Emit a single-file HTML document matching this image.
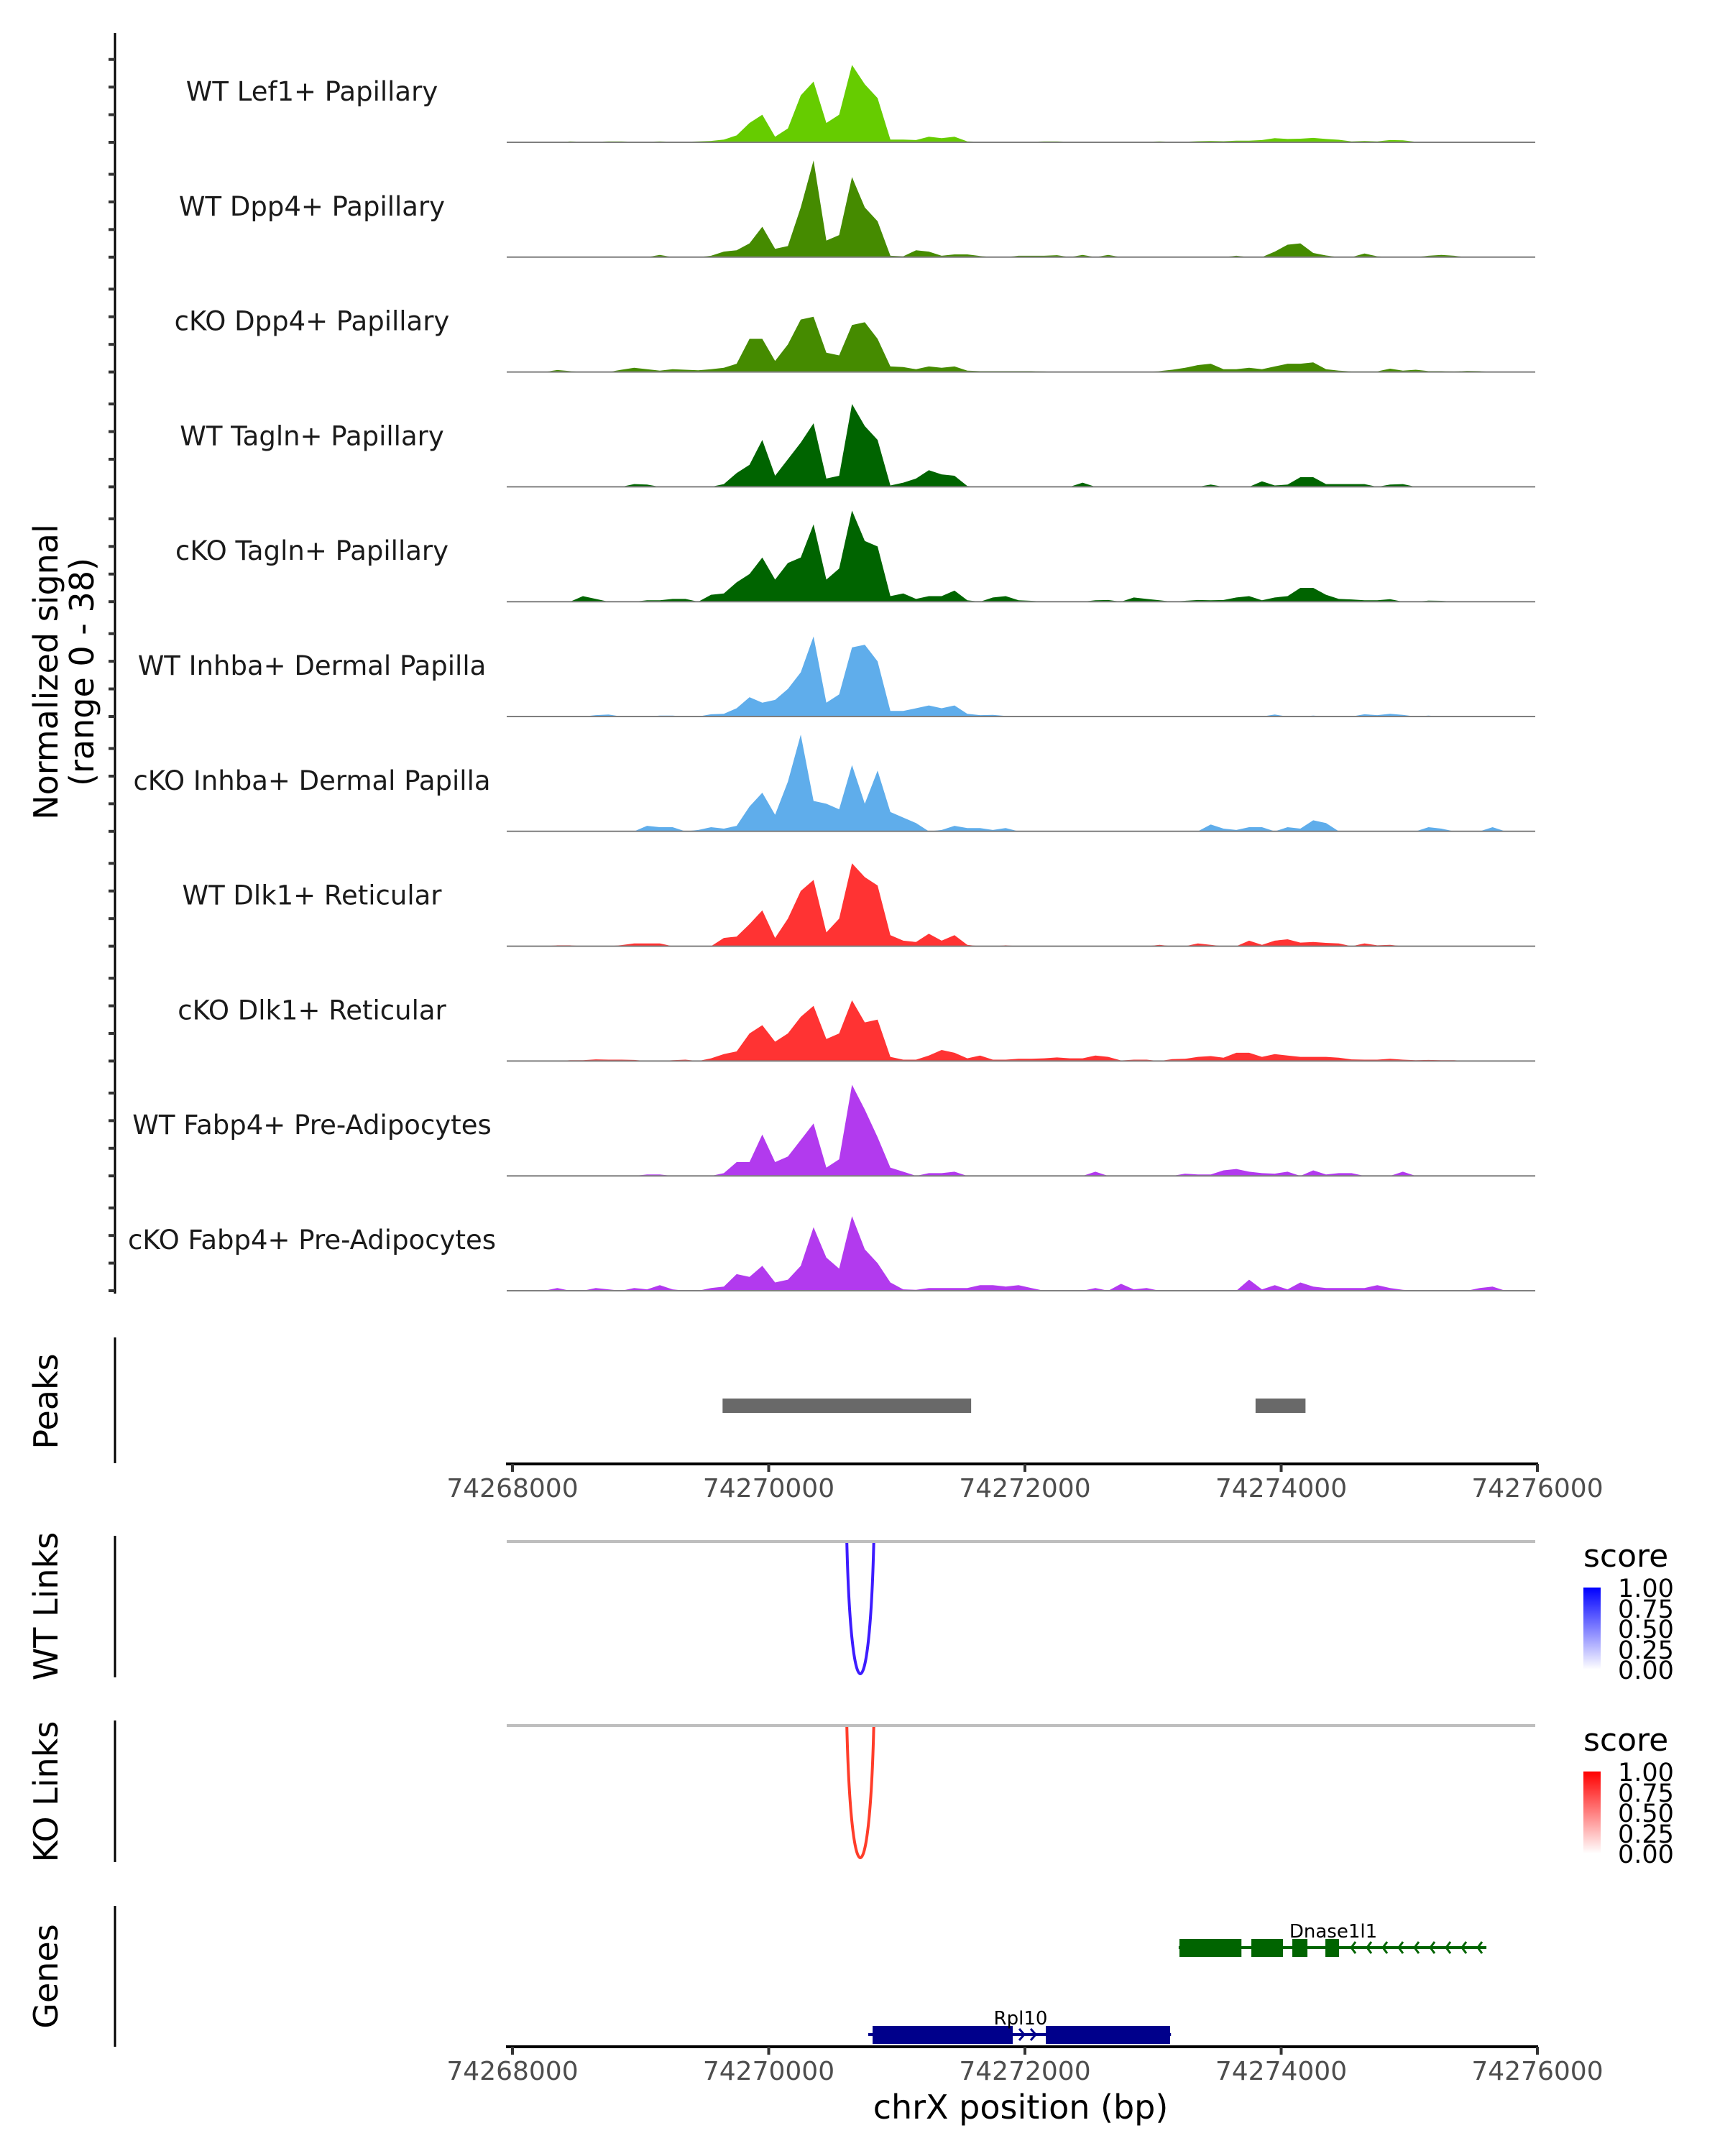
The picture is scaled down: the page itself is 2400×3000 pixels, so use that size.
<!DOCTYPE html>
<html><head><meta charset="utf-8">
<style>
html,body{margin:0;padding:0;background:#fff;}
svg{display:block;font-family:"DejaVu Sans","Liberation Sans",sans-serif;}
</style></head>
<body>
<svg id="chart" width="2400" height="3000" viewBox="0 0 2400 3000" xmlns="http://www.w3.org/2000/svg">
<rect width="2400" height="3000" fill="#fff"/>
<g id="tracks"></g>
<g id="labels"></g>
<line x1="160" y1="46" x2="160" y2="1800" stroke="#000" stroke-width="3"/>
<g id="yticks"></g>
<text transform="translate(80,935) rotate(-90)" text-anchor="middle" font-size="46" fill="#000">Normalized signal</text>
<text transform="translate(130,935) rotate(-90)" text-anchor="middle" font-size="46" fill="#000">(range 0 - 38)</text>

<line x1="160" y1="1861" x2="160" y2="2036" stroke="#000" stroke-width="3"/>
<text transform="translate(80,1950) rotate(-90)" text-anchor="middle" font-size="46">Peaks</text>
<g id="peaks"></g>
<g id="axis1"></g>

<line x1="160" y1="2137" x2="160" y2="2334" stroke="#000" stroke-width="3"/>
<text transform="translate(80,2235) rotate(-90)" text-anchor="middle" font-size="46">WT Links</text>
<line x1="705" y1="2145" x2="2136" y2="2145" stroke="#bebebe" stroke-width="4"/>
<g id="wtlinks"></g>

<line x1="160" y1="2394" x2="160" y2="2591" stroke="#000" stroke-width="3"/>
<text transform="translate(80,2493) rotate(-90)" text-anchor="middle" font-size="46">KO Links</text>
<line x1="705" y1="2401" x2="2136" y2="2401" stroke="#bebebe" stroke-width="4"/>
<g id="kolinks"></g>

<defs>
<linearGradient id="gblue" x1="0" y1="0" x2="0" y2="1"><stop offset="0" stop-color="#0000ff"/><stop offset="1" stop-color="#ffffff"/></linearGradient>
<linearGradient id="gred" x1="0" y1="0" x2="0" y2="1"><stop offset="0" stop-color="#ff0000"/><stop offset="1" stop-color="#ffffff"/></linearGradient>
</defs>
<g>
<text x="2203" y="2180" font-size="44">score</text>
<rect x="2203" y="2209" width="24" height="114" fill="url(#gblue)"/>
<g font-size="35">
<text x="2251" y="2222">1.00</text><text x="2251" y="2251">0.75</text><text x="2251" y="2279">0.50</text><text x="2251" y="2308">0.25</text><text x="2251" y="2336">0.00</text></g>
</g>
<g>
<text x="2203" y="2436" font-size="44">score</text>
<rect x="2203" y="2465" width="24" height="114" fill="url(#gred)"/>
<g font-size="35">
<text x="2251" y="2478">1.00</text><text x="2251" y="2507">0.75</text><text x="2251" y="2535">0.50</text><text x="2251" y="2564">0.25</text><text x="2251" y="2592">0.00</text></g>
</g>

<line x1="160" y1="2652" x2="160" y2="2848" stroke="#000" stroke-width="3"/>
<text transform="translate(80,2750) rotate(-90)" text-anchor="middle" font-size="46">Genes</text>
<g id="genes"></g>
<g id="axis2"></g>
<text x="1420" y="2948" text-anchor="middle" font-size="46">chrX position (bp)</text>
</svg>
<script>
const trackNames = ["WT Lef1+ Papillary","WT Dpp4+ Papillary","cKO Dpp4+ Papillary","WT Tagln+ Papillary","cKO Tagln+ Papillary","WT Inhba+ Dermal Papilla","cKO Inhba+ Dermal Papilla","WT Dlk1+ Reticular","cKO Dlk1+ Reticular","WT Fabp4+ Pre-Adipocytes","cKO Fabp4+ Pre-Adipocytes"];
const trackColors = ["#66cc00","#458b00","#458b00","#006400","#006400","#5fadeb","#5fadeb","#ff3333","#ff3333","#b23aee","#b23aee"];
const binStart = 74268000;
const binSize = 100;
const sigLef1WT = [0,0,0,0,0.3,0.2,0.2,0.3,0.3,0.2, 0.2,0.3,0.2,0.2,0.3,0.5,1,2.5,7,10, 2,5,17,22,7,10,28,21,16,1, 1,0.8,2,1.5,2,0.3,0.2,0.2,0.2,0.2, 0.2,0.3,0.3,0.2,0.2,0.2,0.2,0.2,0.2,0.2, 0.3,0.2,0.2,0.4,0.5,0.4,0.6,0.6,0.8,1.5, 1.2,1.3,1.6,1.2,0.9,0.3,0.5,0.3,0.8,0.7, 0.2,0.1,0,0,0,0,0,0,0,0];
const sigDpp4WT = [0,0,0,0,0,0,0,0,0,0, 0,0.8,0,0,0,0.5,2,2.5,5,11, 3,4,18,35,6,8,29,18,13,0.5, 0.3,2.5,2,0.5,1,1,0.4,0,0,0.5, 0.5,0.5,0.7,0,0.8,0,0.8,0,0,0, 0,0,0,0,0,0,0.5,0,0,2, 4.5,5,1.5,0.6,0,0,1.3,0.3,0,0, 0,0.5,0.8,0.5,0,0,0,0,0,0];
const sigDpp4KO = [0,0,0,0.7,0.3,0,0,0,0.8,1.5, 1,0.5,1,0.8,0.6,1,1.5,3,12,12, 4,10,19,20,7,6,17,18,12,2, 1.8,1,2,1.5,2,0.5,0.3,0.3,0.3,0.3, 0.3,0.2,0,0,0,0,0,0,0,0, 0.3,0.8,1.5,2.5,3,1,1,1.5,1,2, 3,3,3.5,1,0.5,0.2,0.2,0.2,1.2,0.5, 0.8,0.3,0.3,0.2,0.4,0.3,0,0,0,0];
const sigTaglnWT = [0,0,0,0,0,0,0,0,0,1, 0.8,0,0,0,0,0,1,5,8,17, 4,10,16,23,3,4,30,22,17,0.5, 1.5,3,6,4.5,4,0.3,0,0,0,0, 0,0,0,0,1.5,0,0,0,0,0, 0,0,0,0,0.8,0,0,0,2,0.5, 0.8,3.5,3.5,1,1,1,1,0,0.8,1, 0,0,0,0,0,0,0,0,0,0];
const sigTaglnKO = [0,0,0,0,0,2,1,0,0,0, 0.5,0.5,1,1,0,2.5,3,7,10,16, 8,14,16,28,8,12,33,22,20,2, 3,1,2,2,4,0.5,0,1.5,2,0.5, 0.3,0,0,0,0,0.5,0.6,0,1.5,1, 0.5,0,0.3,0.6,0.5,0.6,1.5,2,0.5,1.5, 2,5,5,2.5,1,0.8,0.5,0.5,0.9,0, 0,0.4,0.3,0,0,0,0,0,0,0];
const sigInhbaWT = [0,0,0,0,0,0,0.5,0.7,0,0, 0,0.3,0.3,0,0,0.8,1,3,7,5, 6,10,16,29,5,8,25,26,20,2, 2,3,4,3,4,1,0.5,0.6,0.2,0, 0,0,0,0,0,0,0,0,0,0, 0,0,0,0,0,0,0,0,0,0.7, 0,0,0.3,0,0,0,0.8,0.5,1,0.6, 0,0.3,0,0,0,0,0,0,0,0];
const sigInhbaKO = [0,0,0,0,0,0,0,0,0,0, 2,1.5,1.5,0,0.5,1.5,1,2,9,14, 6,18,35,11,10,8,24,10,22,7, 5,3,0,0.5,2,1.2,1.2,0.5,1.2,0, 0,0,0,0,0,0,0,0,0,0, 0,0,0,0,2.5,1,0.5,1.5,1.5,0, 1.5,1,4,3,0,0,0,0,0,0, 0,1.5,1,0,0,0,1.5,0,0,0];
const sigDlk1WT = [0,0,0,0.3,0.3,0,0,0,0.4,1, 1,1,0,0,0,0,3,3.5,8,13, 3,10,20,24,5,10,30,25,22,4, 2,1.5,4.5,2,4,0.5,0,0,0.3,0, 0,0,0,0,0,0,0,0,0,0, 0.5,0,0,1,0.5,0,0,2,0.5,2, 2.5,1.3,1.5,1.2,1,0,1,0.3,0.5,0, 0,0,0,0,0,0,0,0,0,0];
const sigDlk1KO = [0,0,0,0,0.3,0.3,0.6,0.5,0.5,0.4, 0,0,0.3,0.5,0,1,2.5,3.5,10,13, 7,10,16,20,8,10,22,14,15,1.5, 0.5,0.5,2,4,3,1,2,0.5,0.5,0.8, 0.8,1,1.3,1,1,2,1.5,0.2,0.5,0.5, 0,0.7,0.8,1.5,1.8,1.2,3,3,1.5,2.5, 2,1.5,1.5,1.5,1.2,0.6,0.5,0.5,0.8,0.5, 0.3,0.4,0.3,0.3,0,0,0,0,0,0];
const sigFabp4WT = [0,0,0,0,0,0,0,0,0,0, 0.5,0.5,0,0,0,0,1,5,5,15, 5,7,13,19,3,6,33,24,14,3, 1.5,0,1,1,1.5,0,0,0,0,0, 0,0,0,0,0,1.5,0,0,0,0, 0,0,0.8,0.5,0.5,2,2.5,1.5,1,0.8, 1.5,0,2,0.5,1,1,0,0,0,1.5, 0,0,0,0,0,0,0,0,0,0];
const sigFabp4KO = [0,0,0,1,0,0,1,0.5,0,1, 0.5,2,0.5,0,0,1,1.5,6,5,9, 3,4,9,23,12,8,27,15,10,3, 0.5,0.3,1,1,1,1,2,2,1.5,2, 1,0,0,0,0,1,0,2.5,0.5,1, 0,0,0,0,0,0,0,4,0.5,2, 0.5,3,1.5,1,1,1,1,2,1,0.3, 0,0,0,0,0,1,1.5,0,0,0];
const signals = [sigLef1WT,sigDpp4WT,sigDpp4KO,sigTaglnWT,sigTaglnKO,sigInhbaWT,sigInhbaKO,sigDlk1WT,sigDlk1KO,sigFabp4WT,sigFabp4KO];
const yMax = 38;
const yTickVals = [0,10,20,30];
const xTicks = [74268000,74270000,74272000,74274000,74276000];
const peakStarts = [74269640,74273800];
const peakEnds = [74271580,74274190];
const wtLinkStart = [74270610]; const wtLinkEnd = [74270820]; const wtLinkScore = [1.0];
const koLinkStart = [74270610]; const koLinkEnd = [74270820]; const koLinkScore = [1.0];

const NS = "http://www.w3.org/2000/svg";
const X0 = 713, PXBP = 1426/8000;
function xs(bp){ return X0 + (bp - 74268000)*PXBP; }
const BASE0 = 198, TSTEP = 159.8, THEIGHT = 146;
function ys(i, v){ return BASE0 + TSTEP*i - v*THEIGHT/yMax; }
function mk(tag, attrs, parent){ const e=document.createElementNS(NS,tag); for(const k in attrs) e.setAttribute(k,attrs[k]); parent.appendChild(e); return e; }

const gT = document.getElementById('tracks');
const gL = document.getElementById('labels');
const gY = document.getElementById('yticks');
signals.forEach((arr,i)=>{
  const base = ys(i,0);
  let d = "M" + xs(binStart).toFixed(1) + "," + base.toFixed(1);
  arr.forEach((v,b)=>{ d += " L" + xs(binStart + binSize*(b+0.5)).toFixed(1) + "," + ys(i,v).toFixed(1); });
  d += " L" + xs(binStart + binSize*arr.length).toFixed(1) + "," + base.toFixed(1) + " Z";
  const p = mk('path',{d:d, fill:trackColors[i]}, gT);
  
  
  const bl = mk('line',{x1:705,x2:2136,y1:base,y2:base,stroke:'#7f7f7f','stroke-width':2}, gT);
  
  
  const t = mk('text',{x:434,y:base-58,'text-anchor':'middle','font-size':37,fill:'#1a1a1a'}, gL);
  t.textContent = trackNames[i];
  
  
  yTickVals.forEach(tv=>{
    const tk = mk('line',{x1:151,x2:160,y1:ys(i,tv),y2:ys(i,tv),stroke:'#333','stroke-width':4}, gY);
    
    
  });
});

const gP = document.getElementById('peaks');
peakStarts.forEach((s,k)=>{
  const r = mk('rect',{x:xs(s),y:1946,width:xs(peakEnds[k])-xs(s),height:20,fill:'#696969'}, gP);
  
  
});

function drawAxis(id, y){
  const g = document.getElementById(id);
  const al = mk('line',{x1:704,x2:xs(74276000)+1,y1:y,y2:y,stroke:'#000','stroke-width':4}, g);
  
  
  xTicks.forEach(tv=>{
    const tk = mk('line',{x1:xs(tv),x2:xs(tv),y1:y,y2:y+11,stroke:'#333','stroke-width':4}, g);
    
    
    const tl = mk('text',{x:xs(tv),y:y+46,'text-anchor':'middle','font-size':36,fill:'#4d4d4d'}, g);
    tl.textContent = tv;
    
    
  });
}
drawAxis('axis1', 2037);
drawAxis('axis2', 2848);

function drawLinks(id, starts, ends, scores, baseY, color){
  const g = document.getElementById(id);
  starts.forEach((s,k)=>{
    const x1 = xs(s), x2 = xs(ends[k]);
    const depth = 182*scores[k];
    const cy = baseY + 2 + depth/0.75;
    const p = mk('path',{d:`M${x1},${baseY+2} C${x1+6},${cy} ${x2-6},${cy} ${x2},${baseY+2}`,fill:'none',stroke:color,'stroke-width':4}, g);
    
    
  });
}
drawLinks('wtlinks', wtLinkStart, wtLinkEnd, wtLinkScore, 2145, '#3d1cff');
drawLinks('kolinks', koLinkStart, koLinkEnd, koLinkScore, 2401, '#ff3d2a');

const gG = document.getElementById('genes');
const dnaseExons = [[74273206,74273690],[74273767,74274014],[74274087,74274205],[74274345,74274452]];
const rplExons = [[74270811,74271905],[74272163,74273133]];
function gene(name, start, end, exons, y, color, labelX){
  const line = mk('line',{x1:xs(start),x2:xs(end),y1:y,y2:y,stroke:color,'stroke-width':4}, gG);
  
  
  exons.forEach(ex=>{
    const r = mk('rect',{x:xs(ex[0]),y:y-12,width:xs(ex[1])-xs(ex[0]),height:25,fill:color}, gG);
    
    
  });
  const t = mk('text',{x:labelX,y:y-14,'text-anchor':'middle','font-size':26,fill:'#000'}, gG);
  t.textContent = name;
  
  
}
gene('Dnase1l1', 74273200, 74275602, dnaseExons, 2710, '#006400', 1855);
gene('Rpl10', 74270777, 74273140, rplExons, 2831, '#00008b', 1420);
for(let x=1880; x<=2062; x+=22){
  const c = mk('path',{d:`M${x+6},${2702} L${x},${2710} L${x+6},${2718}`,fill:'none',stroke:'#006400','stroke-width':3}, gG);
  
  
}
for(const x of [1418,1434]){
  const c = mk('path',{d:`M${x},${2823} L${x+7},${2831} L${x},${2839}`,fill:'none',stroke:'#00008b','stroke-width':3}, gG);
  
  
}
</script>
</body></html>
